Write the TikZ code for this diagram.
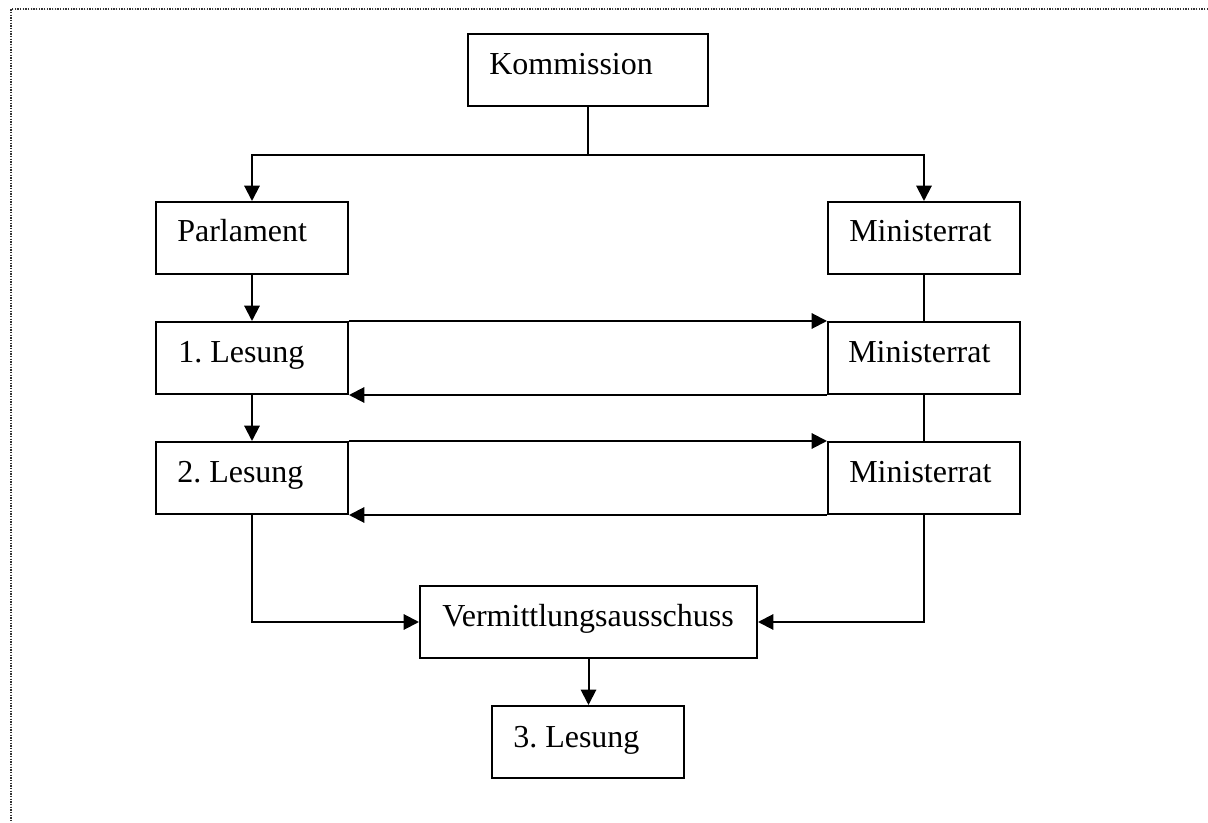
\documentclass[tikz,border=0pt]{standalone}
\usepackage{fontspec}
\setmainfont{Liberation Serif}
\usetikzlibrary{arrows.meta,fit}
\frenchspacing
\begin{document}
\begin{tikzpicture}[x=0.75pt,y=-0.75pt,
  box/.style={draw,line width=1.5pt,inner sep=0pt},
  txt/.style={anchor=base west,inner sep=0pt,font=\fontsize{24}{28}\selectfont},
  arr/.style={line width=1.5pt,-{Triangle[length=11.5pt,width=11.5pt]}},
  ln/.style={line width=1.5pt},
  frame/.style={line width=1.3pt,black!80,dash pattern=on 1.1pt off 0.9pt}]
\useasboundingbox (0,0) rectangle (1208,823);
% frame
\draw[frame] (1208,9) -- (11,9) -- (11,823);
% boxes
\node[box,fit={(468,34) (708,106)}] (kom) {};
\node[txt] (tkom) at (489,75) {Kommission};
\node[box,fit={(156,202) (348,274)}] (parl) {};
\node[txt] (tparl) at (177,242) {Parlament};
\node[box,fit={(828,202) (1020,274)}] (min1) {};
\node[txt] (tmin1) at (849,242) {Ministerrat};
\node[box,fit={(156,322) (348,394)}] (les1) {};
\node[txt] (tles1) at (178,363) {1. Lesung};
\node[box,fit={(828,322) (1020,394)}] (min2) {};
\node[txt] (tmin2) at (848,363) {Ministerrat};
\node[box,fit={(156,442) (348,514)}] (les2) {};
\node[txt] (tles2) at (177,483) {2. Lesung};
\node[box,fit={(828,442) (1020,514)}] (min3) {};
\node[txt] (tmin3) at (849,483) {Ministerrat};
\node[box,fit={(420,586) (757,658)}] (verm) {};
\node[txt] (tverm) at (442,627) {Vermittlungsausschuss};
\node[box,fit={(492,706) (684,778)}] (les3) {};
\node[txt] (tles3) at (513,747) {3. Lesung};
% connectors
\draw[ln] (kom.south) -- ++(0,48) coordinate (jk);
\draw[arr] (jk) -| (parl.north);
\draw[arr] (jk) -| (min1.north);
\draw[arr] (parl.south) -- (les1.north);
\draw[ln] (min1.south) -- (min2.north);
\draw[ln] (min2.south) -- (min3.north);
\draw[arr] (les1.north east) -- (min2.north west);
\draw[arr] (min2.south west) -- (les1.south east);
\draw[arr] (les1.south) -- (les2.north);
\draw[arr] (les2.north east) -- (min3.north west);
\draw[arr] (min3.south west) -- (les2.south east);
\draw[arr] (les2.south) |- (verm.west);
\draw[arr] (min3.south) |- (verm.east);
\draw[arr] (verm.south) -- (verm.south |- les3.north);
\end{tikzpicture}
\end{document}
